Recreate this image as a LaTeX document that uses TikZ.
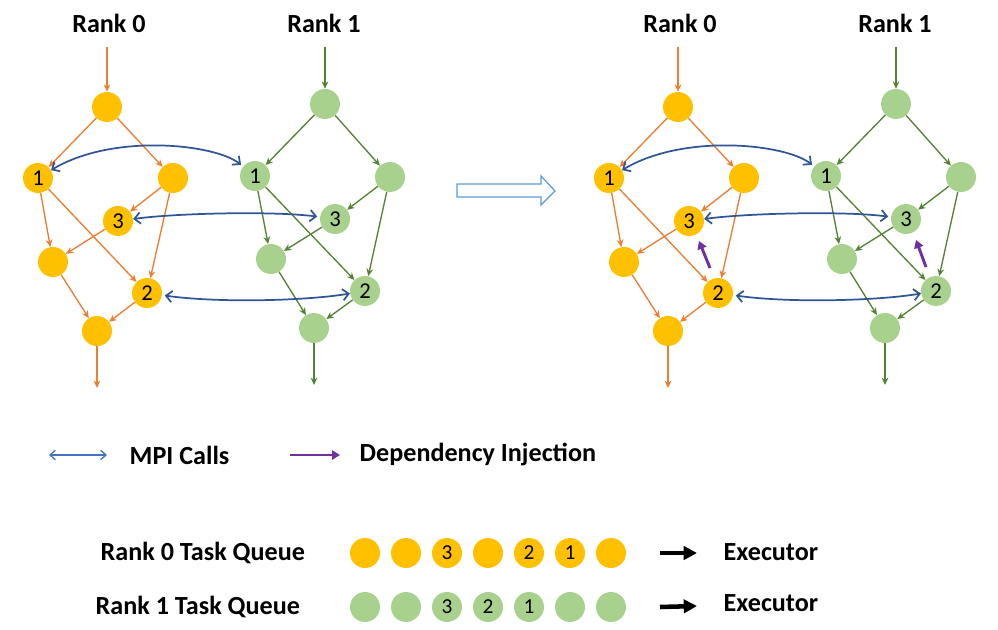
\documentclass[tikz,border=0pt]{standalone}
\usepackage{fontspec}
\setmainfont{Carlito}
\usetikzlibrary{arrows.meta}
\usetikzlibrary{shapes.geometric}
\definecolor{gold}{HTML}{FFC000}
\definecolor{orangeln}{HTML}{ED7D31}
\definecolor{sage}{HTML}{A9D18E}
\definecolor{moss}{HTML}{548235}
\definecolor{mpiblue}{HTML}{2F5597}
\definecolor{legblue}{HTML}{4472C4}
\definecolor{inject}{HTML}{7030A0}
\definecolor{hollow}{HTML}{5B9BD5}

\begin{document}
\begin{tikzpicture}[x=0.75pt,y=-0.75pt,
    task/.style={circle,minimum size=22.5pt,inner sep=0pt,font=\fontsize{17}{17}\selectfont},
    rzero/.style={task,fill=gold},
    rone/.style={task,fill=sage},
    depzero/.style={draw=orangeln,line width=1pt,-{Stealth[length=5.5pt,width=5pt]}},
    depone/.style={draw=moss,line width=1pt,-{Stealth[length=5.5pt,width=5pt]}},
    mpi/.style={draw=mpiblue,line width=1.3pt,{Straight Barb[length=4.5pt,width=8.5pt]}-{Straight Barb[length=4.5pt,width=8.5pt]}},
    inj/.style={draw=inject,line width=2.2pt,-{Triangle[length=6pt,width=7pt]}},
    title/.style={font=\fontsize{19.6}{20}\selectfont\bfseries},
    qtask/.style={circle,minimum size=22.5pt,inner sep=0pt,font=\fontsize{16}{16}\selectfont}]
    \useasboundingbox (0,0) rectangle (998,630);

    % Before and after
    \foreach \dx/\s in {0/a,571/b}{
        % Rank 0
        \node[title] (\s-t0) at (109+\dx,23) {Rank 0};
        \coordinate (\s-in0) at (107+\dx,47);
        \node[rzero] (\s-z0) at (107+\dx,107) {};
        \node[rzero] (\s-z1) at (38+\dx,178) {1};
        \node[rzero] (\s-zr) at (173+\dx,178) {};
        \node[rzero] (\s-z3) at (118+\dx,221) {3};
        \node[rzero] (\s-zl) at (53+\dx,262) {};
        \node[rzero] (\s-z2) at (147+\dx,293) {2};
        \node[rzero] (\s-zb) at (97+\dx,331) {};
        \coordinate (\s-out0) at (97+\dx,388);
        \draw[depzero] (\s-in0) -- (\s-z0);
        \draw[depzero] (\s-z0) -- (\s-z1);
        \draw[depzero] (\s-z0) -- (\s-zr);
        \draw[depzero] (\s-zr) -- (\s-z3);
        \draw[depzero] (\s-zr) -- (\s-z2);
        \draw[depzero] (\s-z1) -- (\s-zl);
        \draw[depzero] (\s-z1) -- (\s-z2);
        \draw[depzero] (\s-z3) -- (\s-zl);
        \draw[depzero] (\s-zl) -- (\s-zb);
        \draw[depzero] (\s-z2) -- (\s-zb);
        \draw[depzero] (\s-zb) -- (\s-out0);

        % Rank 1
        \node[title] (\s-t1) at (324+\dx,23) {Rank 1};
        \coordinate (\s-in1) at (325+\dx,47);
        \node[rone] (\s-o0) at (325+\dx,104) {};
        \node[rone] (\s-o1) at (255+\dx,176) {1};
        \node[rone] (\s-or) at (390+\dx,177) {};
        \node[rone] (\s-o3) at (335+\dx,219) {3};
        \node[rone] (\s-ol) at (271+\dx,259) {};
        \node[rone] (\s-o2) at (365+\dx,291) {2};
        \node[rone] (\s-ob) at (314+\dx,328) {};
        \coordinate (\s-out1) at (314+\dx,385);
        \draw[depone] (\s-in1) -- (\s-o0);
        \draw[depone] (\s-o0) -- (\s-o1);
        \draw[depone] (\s-o0) -- (\s-or);
        \draw[depone] (\s-or) -- (\s-o3);
        \draw[depone] (\s-or) -- (\s-o2);
        \draw[depone] (\s-o1) -- (\s-ol);
        \draw[depone] (\s-o1) -- (\s-o2);
        \draw[depone] (\s-o3) -- (\s-ol);
        \draw[depone] (\s-ol) -- (\s-ob);
        \draw[depone] (\s-o2) -- (\s-ob);
        \draw[depone] (\s-ob) -- (\s-out1);

        % MPI calls
        \draw[mpi,shorten >=2pt] (\s-z1) .. controls +(75,-45) and +(-40,-32) .. (\s-o1);
        \draw[mpi,shorten >=2pt] (\s-z3) .. controls +(60,-8) and +(-60,-8) .. (\s-o3);
        \draw[mpi,shorten <=2pt] (\s-z2) .. controls +(70,10) and +(-60,10) .. (\s-o2);
    }

    % Transition
    \draw[hollow,line width=0.9pt,fill=white] (457,184) -- (541,184) -- (541,176) -- (555,191)
        -- (541,205) -- (541,197) -- (457,197) -- cycle;

    % Dependency injection
    \coordinate (inj0s) at (710,268);
    \coordinate (inj0e) at (699,241);
    \coordinate (inj1s) at (926,267);
    \coordinate (inj1e) at (916,240);
    \draw[inj] (inj0s) -- (inj0e);
    \draw[inj] (inj1s) -- (inj1e);

    % Legend
    \coordinate (lm0) at (49,455);
    \coordinate (lm1) at (107,455);
    \draw[draw=legblue,line width=1pt,{Straight Barb[length=4pt,width=7pt]}-{Straight Barb[length=4pt,width=7pt]}] (lm0) -- (lm1);
    \node[title,anchor=west] (lmpi) at (125,455) {MPI Calls};
    \coordinate (li0) at (290,455);
    \coordinate (li1) at (340,455);
    \draw[draw=inject,line width=2pt,-{Triangle[length=6pt,width=7pt]}] (li0) -- (li1);
    \node[title,anchor=west] (linj) at (355,455) {Dependency Injection};

    % Task queues
    \node[title,anchor=west] (q0) at (96,553) {Rank 0 Task Queue};
    \node[title,anchor=west] (q1) at (91,607) {Rank 1 Task Queue};
    \foreach \lab [count=\i] in {{},{},3,{},2,1,{}}
        \node[qtask,fill=gold] (qz\i) at (324+41*\i,553) {\lab};
    \foreach \lab [count=\i] in {{},{},3,2,1,{},{}}
        \node[qtask,fill=sage] (qo\i) at (324+41*\i,607) {\lab};
    \coordinate (ex0s) at (660,553);
    \coordinate (ex0e) at (697,553);
    \coordinate (ex1s) at (660,607);
    \coordinate (ex1e) at (697,606);
    \draw[line width=3.4pt,-{Triangle[length=10pt,width=10pt]}] (ex0s) -- (ex0e);
    \draw[line width=3.4pt,-{Triangle[length=10pt,width=10pt]}] (ex1s) -- (ex1e);
    \node[title,anchor=west] (ex0) at (719,552) {Executor};
    \node[title,anchor=west] (ex1) at (719,603) {Executor};
\end{tikzpicture}
\end{document}
